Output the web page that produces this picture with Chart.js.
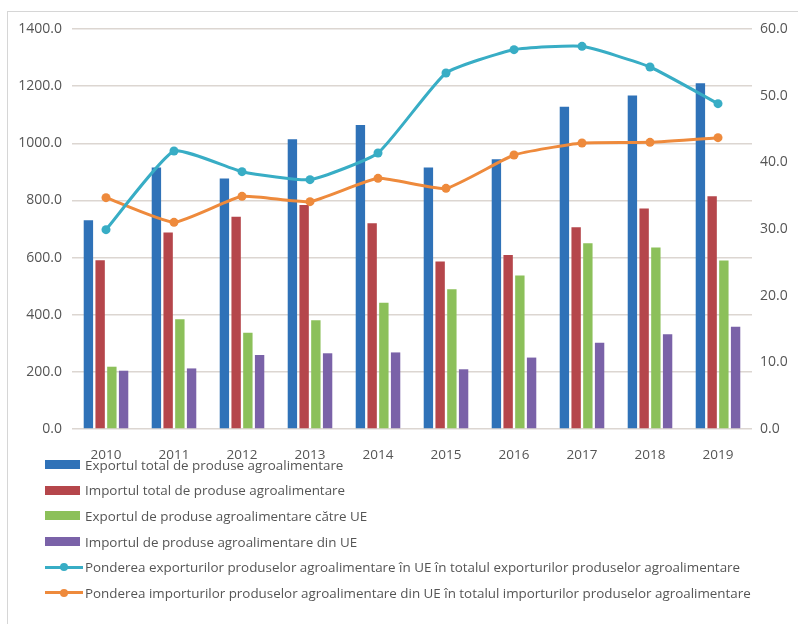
<!DOCTYPE html>
<html>
<head>
<meta charset="utf-8">
<title>Comert agroalimentar 2010-2019</title>
<script src="https://cdn.jsdelivr.net/npm/chart.js@4/dist/chart.umd.min.js"></script>
<style>
  body { margin: 0; background: #fff; font-family: 'Open Sans', sans-serif; }
  #frame { position: absolute; left: 7px; top: 11px; width: 791px; height: 613px;
           border-top: 1px solid #d6d6d6; border-left: 1px solid #d6d6d6; }
  #wrap { position: absolute; left: 0; top: 0; width: 798px; height: 460px; }
  #legend { position: absolute; left: 45px; top: 452px; color: #555; font-size: 13.4px; }
  .item { height: 25.6px; display: flex; align-items: center; white-space: nowrap; }
  .swatch { width: 35px; height: 9px; margin-right: 5px; }
  .lineicon { width: 38px; height: 10px; margin-right: 2px; position: relative; }
  .lineicon .bar { position: absolute; left: 0; right: 0; top: 3.5px; height: 3px; }
  .lineicon .dot { position: absolute; left: 15px; top: 1px; width: 8px; height: 8px; border-radius: 50%; }
</style>
</head>
<body>
<div id="frame"></div>
<div id="wrap"><canvas id="agro"></canvas></div>
<div id="legend"></div>
<script>
const years = ['2010', '2011', '2012', '2013', '2014', '2015', '2016', '2017', '2018', '2019'];

// mil. euro, left axis
const exportTotal = [731, 915, 877, 1014, 1064, 915, 944, 1128, 1167, 1210];
const importTotal = [591, 688, 743, 784, 720, 586, 609, 706, 772, 815];
const exportUE    = [218, 384, 337, 381, 442, 489, 537, 650, 635, 590];
const importUE    = [204, 212, 259, 265, 268, 209, 250, 302, 332, 358];

// %, right axis
const pondereExport = [29.9, 41.7, 38.6, 37.4, 41.4, 53.4, 56.9, 57.4, 54.3, 48.8];
const pondereImport = [34.7, 31.0, 34.9, 34.1, 37.6, 36.1, 41.1, 42.9, 43.0, 43.7];

const gridColor = '#dcd6d1';
const textColor = '#555';

function barSet(label, data, color) {
  return {
    type: 'bar', label, data, yAxisID: 'y', order: 2,
    backgroundColor: color, borderWidth: 0,
    categoryPercentage: 0.69, barPercentage: 0.8
  };
}

function lineSet(label, data, color) {
  return {
    type: 'line', label, data, yAxisID: 'y1', order: 1,
    borderColor: color, backgroundColor: color, borderWidth: 3,
    pointRadius: 4.5, pointBackgroundColor: color, pointBorderWidth: 0,
    tension: 0.15, fill: false
  };
}

const chart = new Chart(document.getElementById('agro'), {
  data: {
    labels: years,
    datasets: [
      barSet('Exportul total de produse agroalimentare', exportTotal, '#2f72b8'),
      barSet('Importul total de produse agroalimentare', importTotal, '#b5464b'),
      barSet('Exportul de produse agroalimentare către UE', exportUE, '#8cc05a'),
      barSet('Importul de produse agroalimentare din UE', importUE, '#7a62a8'),
      lineSet('Ponderea exporturilor produselor agroalimentare în UE în totalul exporturilor produselor agroalimentare', pondereExport, '#38adc5'),
      lineSet('Ponderea importurilor produselor agroalimentare din UE în totalul importurilor produselor agroalimentare', pondereImport, '#ee8a3c')
    ]
  },
  options: {
    responsive: true,
    maintainAspectRatio: false,
    animation: false,
    layout: { padding: { top: 29, left: 0, right: 0, bottom: 0 } },
    plugins: {
      legend: { display: false },
      tooltip: { enabled: false }
    },
    scales: {
      x: {
        grid: { display: false },
        border: { display: false },
        ticks: { color: textColor, font: { family: 'Open Sans', size: 13.5 }, padding: 10 },
        afterFit: s => { s.height = 31; }
      },
      y: {
        position: 'left', min: 0, max: 1400,
        grid: { color: gridColor, lineWidth: 1.5, drawTicks: false },
        border: { display: false },
        ticks: { stepSize: 200, color: textColor, padding: 10,
                 font: { family: 'Open Sans', size: 14 },
                 callback: v => v.toFixed(1) },
        afterFit: s => { s.width = 72; }
      },
      y1: {
        position: 'right', min: 0, max: 60,
        grid: { display: false, drawTicks: false },
        border: { display: false },
        ticks: { stepSize: 10, color: textColor, padding: 8,
                 font: { family: 'Open Sans', size: 14 },
                 callback: v => v.toFixed(1) },
        afterFit: s => { s.width = 46; }
      }
    }
  }
});

// legend in one column under the chart
const legend = document.getElementById('legend');
chart.data.datasets.forEach(ds => {
  const row = document.createElement('div');
  row.className = 'item';
  let icon;
  if (ds.type === 'bar') {
    icon = document.createElement('div');
    icon.className = 'swatch';
    icon.style.background = ds.backgroundColor;
  } else {
    icon = document.createElement('div');
    icon.className = 'lineicon';
    icon.innerHTML = '<div class="bar"></div><div class="dot"></div>';
    icon.querySelector('.bar').style.background = ds.borderColor;
    icon.querySelector('.dot').style.background = ds.borderColor;
  }
  const txt = document.createElement('span');
  txt.textContent = ds.label;
  row.appendChild(icon);
  row.appendChild(txt);
  legend.appendChild(row);
});
</script>
</body>
</html>
